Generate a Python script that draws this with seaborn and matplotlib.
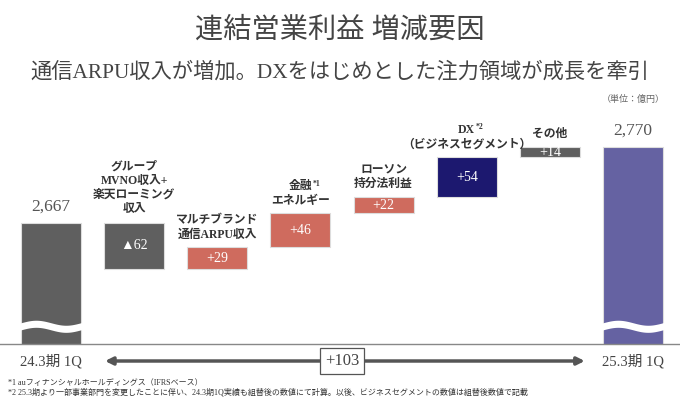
import numpy as np
import pandas as pd
import matplotlib
matplotlib.use('Agg')
import matplotlib.pyplot as plt
import seaborn as sns

# datos del grafico (億円)
categories = ['24.3期 1Q', 'MVNO', 'ARPU', '金融', 'ローソン', 'DX', 'その他', '25.3期 1Q']
start_value = 2667
deltas = [-62, 29, 46, 22, 54, 14]
end_value = 2770
value_labels = ['2,667', '▲62', '+29', '+46', '+22', '+54', '+14', '2,770']
factor_labels = ['', 'グループ\nMVNO収入+\n楽天ローミング\n収入', 'マルチブランド\n通信ARPU収入',
                 '金融\nエネルギー', 'ローソン\n持分法利益', 'DX\n（ビジネスセグメント）', 'その他', '']
superscripts = {3: '*1', 5: '*2'}
tick_labels = ['24.3期 1Q', '', '', '', '', '', '', '25.3期 1Q']
bar_colors = ['#5f5f5f', '#5f5f5f', '#cf6b5e', '#cf6b5e', '#cf6b5e', '#1c186f', '#5f5f5f', '#6562a2']
total_change = '+103'
title = '連結営業利益 増減要因'
subtitle = '通信ARPU収入が増加。DXをはじめとした注力領域が成長を牽引'
unit = '（単位：億円）'
notes = ['*1 auフィナンシャルホールディングス（IFRSベース）',
         '*2 25.3期より一部事業部門を変更したことに伴い、24.3期1Q実績も組替後の数値にて計算。以後、ビジネスセグメントの数値は組替後数値で記載']

sns.set_theme(style='white')
plt.rcParams['font.family'] = ['Liberation Serif', 'Noto Sans CJK JP', 'DejaVu Sans']

# cascada: base y altura de cada barra
levels = start_value + np.cumsum(deltas)
prev = np.concatenate([[start_value], levels[:-1]])
lows = np.minimum(prev, levels)
highs = np.maximum(prev, levels)
bottoms = np.concatenate([[0], lows, [0]])
heights = np.concatenate([[start_value], highs - lows, [end_value]])
tops = bottoms + heights

df = pd.DataFrame({'cat': categories, 'height': heights})

fig = plt.figure(figsize=(6.8, 3.97), dpi=100)
ax = fig.add_axes([0, 53 / 397, 1, 234 / 397])

sns.barplot(data=df, x='cat', y='height', bottom=bottoms, width=0.72, color='#5f5f5f',
            errorbar=None, ax=ax, edgecolor='#dddddd', linewidth=0.8)
for patch, c in zip(ax.patches, bar_colors):
    patch.set_facecolor(c)

ax.set_ylim(2503, 2820)
ax.set_xlim(-0.613, 7.565)
ax.set_xlabel('')
ax.set_ylabel('')
ax.set_yticks([])
ax.set_xticks(range(len(categories)), labels=tick_labels)
ax.tick_params(axis='x', length=0, pad=7, labelsize=10.5, labelcolor='#444')
for s in ['top', 'left', 'right']:
    ax.spines[s].set_visible(False)
ax.spines['bottom'].set_color('#888888')
ax.spines['bottom'].set_linewidth(1)

# corte ondulado en las barras de inicio y fin
for i in [0, len(categories) - 1]:
    xs = np.linspace(i - 0.4, i + 0.4, 100)
    wave = 2527 + 3.4 * np.sin(2 * np.pi * (xs - (i - 0.36)) / 0.72)
    ax.fill_between(xs, wave - 4.8, wave + 4.8, color='white', zorder=5, lw=0)

# etiquetas
for i in [0, len(categories) - 1]:
    ax.annotate(value_labels[i], (i, tops[i]), xytext=(0, 6), textcoords='offset points',
                ha='center', va='bottom', fontsize=12.5, color='#555555')

for i in range(1, len(categories) - 1):
    ax.text(i, bottoms[i] + heights[i] / 2, value_labels[i], ha='center', va='center',
            fontsize=10, color='white', zorder=6)
    lines = factor_labels[i].split('\n')
    first = 9.8 if i == 1 else 9.2
    for k, line in enumerate(reversed(lines)):
        t = ax.annotate(line, (i, tops[i]), xytext=(0, first + k * 10.3),
                        textcoords='offset points', ha='center', va='center',
                        fontsize=8.5, color='#333333', fontweight='bold')
    if i in superscripts:
        # t es la primera linea (la de arriba)
        ax.annotate(superscripts[i], xy=(1, 1), xycoords=t, xytext=(0.3, 0.5),
                    textcoords='offset points', ha='left', va='top', fontsize=5.5,
                    color='#333333', fontweight='bold')

# flecha total
ytr = ax.get_xaxis_transform()
yarr = -17 / 234
ax.annotate('', xy=(6.42, yarr), xytext=(0.65, yarr), xycoords=ytr, textcoords=ytr,
            arrowprops=dict(arrowstyle='<|-|>', color='#555555', lw=2.5, mutation_scale=11,
                            shrinkA=0, shrinkB=0))
ax.text(3.5, yarr, total_change, transform=ytr, ha='center', va='center', fontsize=12,
        color='#444444', zorder=7,
        bbox=dict(boxstyle='square,pad=0.3', facecolor='white', edgecolor='#555555', lw=0.9))

fig.text(0.5, 1 - 30 / 397, title, ha='center', va='center', fontsize=20.3, color='#444444')
fig.text(0.5, 1 - 72 / 397, subtitle, ha='center', va='center', fontsize=15.3, color='#444444')
fig.text(665 / 680, 1 - 99 / 397, unit, ha='right', va='center', fontsize=6.5, color='#666666')
fig.text(8 / 680, 1 - 383 / 397, notes[0], ha='left', va='center', fontsize=5.75, color='#333333')
fig.text(8 / 680, 1 - 392 / 397, notes[1], ha='left', va='center', fontsize=5.75, color='#333333')

fig.savefig('out.png', dpi=100)
